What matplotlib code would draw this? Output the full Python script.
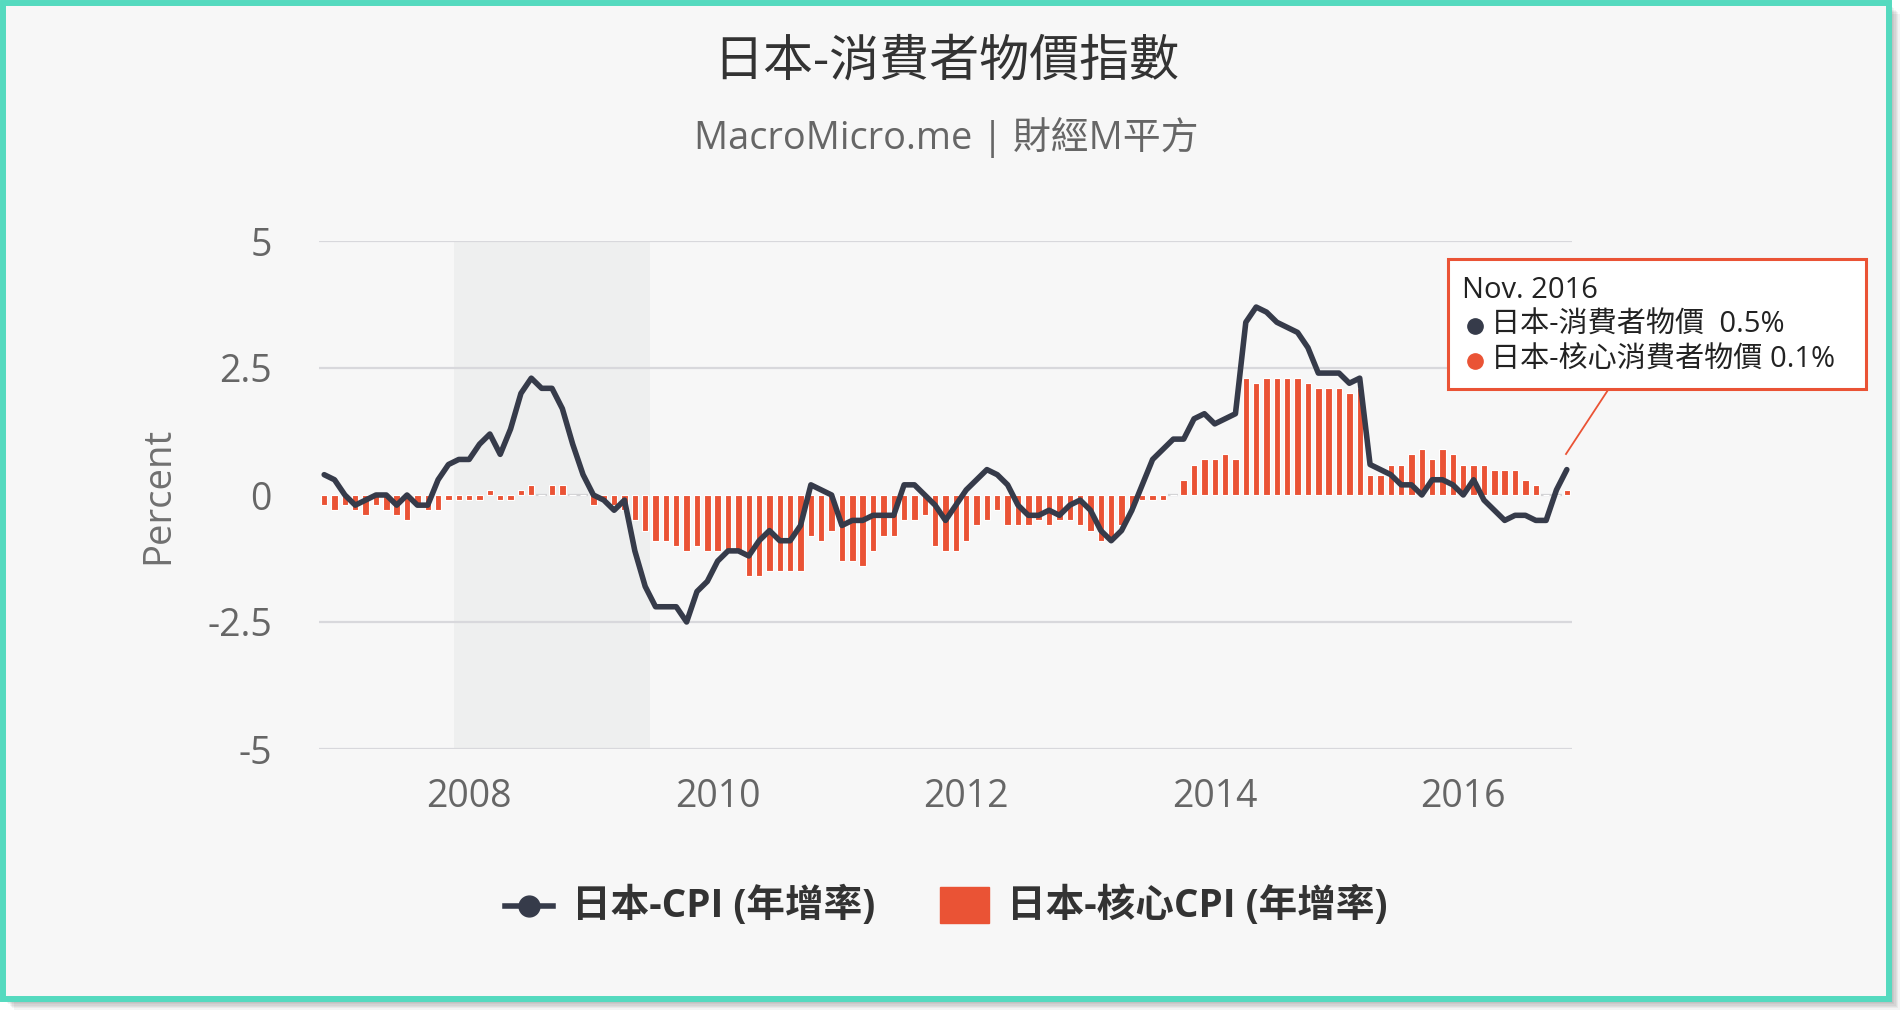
import matplotlib
matplotlib.use("Agg")
import matplotlib.pyplot as plt
from matplotlib.patches import Rectangle
from matplotlib.lines import Line2D
import numpy as np

plt.rcParams['font.family'] = ['Open Sans', 'Noto Sans CJK TC', 'DejaVu Sans']

# ---------------- data ----------------
start_year, start_month = 2006, 11          # first observation: Nov 2006
cpi = [0.4, 0.3,
       0.0, -0.2, -0.1, 0.0, 0.0, -0.2, 0.0, -0.2, -0.2, 0.3, 0.6, 0.7,
       0.7, 1.0, 1.2, 0.8, 1.3, 2.0, 2.3, 2.1, 2.1, 1.7, 1.0, 0.4,
       0.0, -0.1, -0.3, -0.1, -1.1, -1.8, -2.2, -2.2, -2.2, -2.5, -1.9, -1.7,
       -1.3, -1.1, -1.1, -1.2, -0.9, -0.7, -0.9, -0.9, -0.6, 0.2, 0.1, 0.0,
       -0.6, -0.5, -0.5, -0.4, -0.4, -0.4, 0.2, 0.2, 0.0, -0.2, -0.5, -0.2,
       0.1, 0.3, 0.5, 0.4, 0.2, -0.2, -0.4, -0.4, -0.3, -0.4, -0.2, -0.1,
       -0.3, -0.7, -0.9, -0.7, -0.3, 0.2, 0.7, 0.9, 1.1, 1.1, 1.5, 1.6,
       1.4, 1.5, 1.6, 3.4, 3.7, 3.6, 3.4, 3.3, 3.2, 2.9, 2.4, 2.4,
       2.4, 2.2, 2.3, 0.6, 0.5, 0.4, 0.2, 0.2, 0.0, 0.3, 0.3, 0.2,
       0.0, 0.3, -0.1, -0.3, -0.5, -0.4, -0.4, -0.5, -0.5, 0.1, 0.5]
core = [-0.2, -0.3,
        -0.2, -0.3, -0.4, -0.2, -0.3, -0.4, -0.5, -0.2, -0.3, -0.3, -0.1, -0.1,
        -0.1, -0.1, 0.1, -0.1, -0.1, 0.1, 0.2, 0.0, 0.2, 0.2, 0.0, 0.0,
        -0.2, -0.1, -0.2, -0.3, -0.5, -0.7, -0.9, -0.9, -1.0, -1.1, -1.0, -1.1,
        -1.1, -1.1, -1.1, -1.6, -1.6, -1.5, -1.5, -1.5, -1.5, -0.8, -0.9, -0.7,
        -1.3, -1.3, -1.4, -1.1, -0.8, -0.8, -0.5, -0.5, -0.4, -1.0, -1.1, -1.1,
        -0.9, -0.6, -0.5, -0.3, -0.6, -0.6, -0.6, -0.5, -0.6, -0.5, -0.5, -0.6,
        -0.7, -0.9, -0.9, -0.6, -0.3, -0.1, -0.1, -0.1, 0.0, 0.3, 0.6, 0.7,
        0.7, 0.8, 0.7, 2.3, 2.2, 2.3, 2.3, 2.3, 2.3, 2.2, 2.1, 2.1,
        2.1, 2.0, 2.1, 0.4, 0.4, 0.6, 0.6, 0.8, 0.9, 0.7, 0.9, 0.8,
        0.6, 0.6, 0.6, 0.5, 0.5, 0.5, 0.3, 0.2, 0.0, 0.0, 0.1]
recession = [(2007, 12), (2009, 6)]
x_ticks = [2008, 2010, 2012, 2014, 2016]
x_tick_labels = ['2008', '2010', '2012', '2014', '2016']
y_ticks = [-5, -2.5, 0, 2.5, 5]
y_tick_labels = ['-5', '-2.5', '0', '2.5', '5']
month_names = ['Jan', 'Feb', 'Mar', 'Apr', 'May', 'Jun',
               'Jul', 'Aug', 'Sep', 'Oct', 'Nov', 'Dec']
title = '日本-消費者物價指數'
subtitle = 'MacroMicro.me | 財經M平方'
name_cpi = '日本-CPI (年增率)'
name_core = '日本-核心CPI (年增率)'
tip_cpi = '日本-消費者物價'
tip_core = '日本-核心消費者物價'

# ---------------- styling ----------------
LINE_C = '#363b4a'
BAR_C = '#ea5335'
TEAL = '#55dabf'
W, H = 1904, 1014

def fx(x):
    return x / W

def fy(y):
    return 1 - y / H

n = len(cpi)
dates = np.array([start_year + (start_month - 1 + i) / 12.0 for i in range(n)])
core_a = np.array(core)
mw = 1 / 12.0

fig = plt.figure(figsize=(W / 100, H / 100), dpi=100)
fig.patch.set_facecolor('white')

# drop shadow + framed panel
for k in range(8):
    fig.add_artist(Rectangle((fx(4 + k * 1.4), fy(1000 + k * 1.4)),
                             (1886) / W, (996) / H, transform=fig.transFigure,
                             facecolor='#000000', alpha=0.045, edgecolor='none', zorder=-20))
fig.add_artist(Rectangle((fx(3), fy(999)), (1886) / W, (996) / H,
                         transform=fig.transFigure, facecolor='#f7f7f7',
                         edgecolor=TEAL, linewidth=4.3, zorder=-10))

ax = fig.add_axes([fx(319), fy(749), (1572 - 319) / W, (749 - 241) / H])
ax.set_facecolor('none')
ax.set_xlim(dates[0] - 0.5 * mw, dates[-1] + 0.5 * mw)
ax.set_ylim(-5, 5)
for s in ax.spines.values():
    s.set_visible(False)

rs = recession[0][0] + (recession[0][1] - 1) / 12.0 - 0.5 * mw
re_ = recession[1][0] + (recession[1][1] - 1) / 12.0 + 0.5 * mw
ax.axvspan(rs, re_, color='#eeefef', zorder=0, lw=0)

for yv in y_ticks:
    if yv != 0:
        ax.axhline(yv, color='#d8d8dc', lw=1.6, zorder=1)

ax.bar(dates, core_a, width=0.62 * mw, color=BAR_C, edgecolor='white',
       linewidth=0.8, zorder=2)
for d in dates[core_a == 0]:
    ax.hlines(0, d - 0.5 * mw, d + 0.5 * mw, color='#d2d2d4', lw=1.6, zorder=1.5)

ax.plot(dates, cpi, color=LINE_C, lw=4.0, zorder=3,
        solid_joinstyle='round', solid_capstyle='round')

ax.set_xticks(x_ticks)
ax.set_xticklabels(x_tick_labels)
ax.set_yticks(y_ticks)
ax.set_yticklabels(y_tick_labels)
ax.tick_params(axis='both', length=0, labelsize=27, labelcolor='#666666')
ax.tick_params(axis='y', pad=34)
ax.tick_params(axis='x', pad=21)

fig.text(fx(158), fy(495), 'Percent', rotation=90, fontsize=27.5, color='#707070',
         ha='center', va='center')

# titles
fig.text(fx(946), fy(63), title, fontsize=36, color='#333333', ha='center', va='center')
fig.text(fx(946), fy(138), subtitle, fontsize=27.3, color='#666666', ha='center', va='center')

# legend
ly = fy(906)
fig.add_artist(Line2D([fx(505), fx(553)], [ly, ly], color=LINE_C, lw=4.0,
                      transform=fig.transFigure))
fig.add_artist(Line2D([fx(529)], [ly], color=LINE_C, marker='o', ms=15,
                      transform=fig.transFigure))
fig.text(fx(572), ly, name_cpi, fontsize=27.8, fontweight='bold', color='#333333',
         ha='left', va='center')
fig.add_artist(Rectangle((fx(940), fy(923)), 49 / W, 36 / H, color=BAR_C,
                         transform=fig.transFigure))
fig.text(fx(1007), ly, name_core, fontsize=27.8, fontweight='bold', color='#333333',
         ha='left', va='center')

# tooltip for last point
last_i = n - 1
yr = start_year + (start_month - 1 + last_i) // 12
mo = (start_month - 1 + last_i) % 12
fig.add_artist(Line2D([fx(1608), fx(1566)], [fy(390), fy(454)], color=BAR_C, lw=1.3,
                      transform=fig.transFigure, zorder=5))
fig.add_artist(Rectangle((fx(1448), fy(389)), (1866 - 1448) / W, (389 - 259) / H,
                         transform=fig.transFigure, facecolor='white',
                         edgecolor=BAR_C, linewidth=2.2, zorder=6))
fig.text(fx(1462), fy(290), f'{month_names[mo]}. {yr}', fontsize=21, color='#222222',
         ha='left', va='center', zorder=7)
fig.add_artist(Line2D([fx(1475)], [fy(326)], color=LINE_C, marker='o', ms=11,
                      transform=fig.transFigure, zorder=7))
fig.text(fx(1491), fy(325), f'{tip_cpi}  {cpi[-1]:.1f}%', fontsize=21, color='#222222',
         ha='left', va='center', zorder=7)
fig.add_artist(Line2D([fx(1475)], [fy(361)], color=BAR_C, marker='o', ms=11,
                      transform=fig.transFigure, zorder=7))
fig.text(fx(1491), fy(360), f'{tip_core} {core[-1]:.1f}%', fontsize=21, color='#222222',
         ha='left', va='center', zorder=7)

fig.savefig('out.png', dpi=100, facecolor='white')
